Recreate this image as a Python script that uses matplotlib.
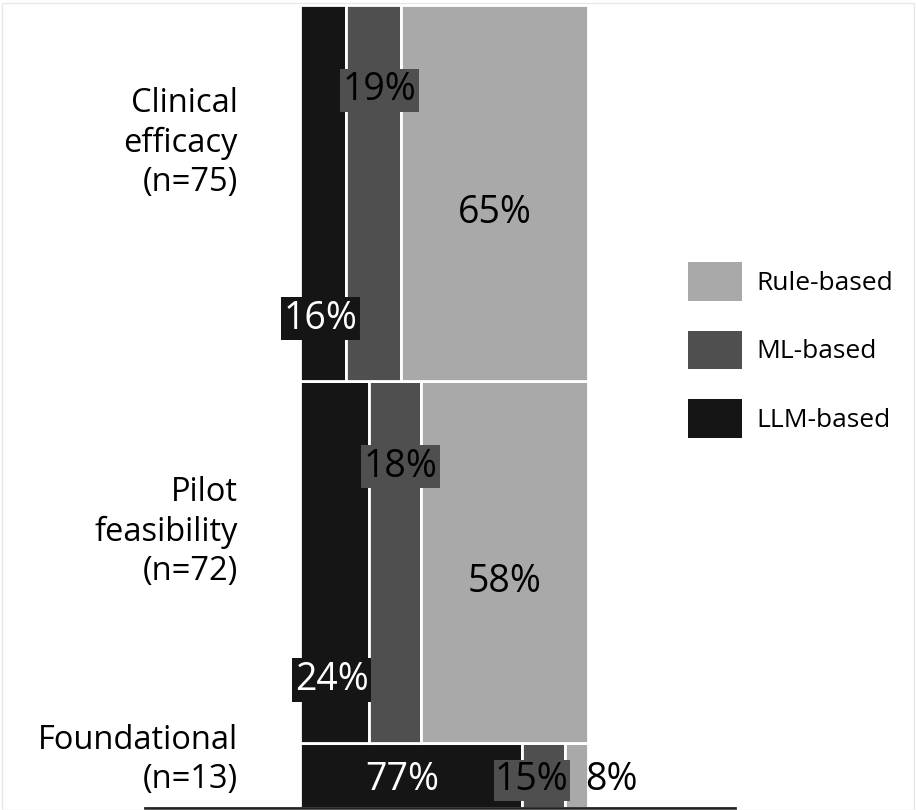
import matplotlib
matplotlib.use("Agg")
import matplotlib.pyplot as plt
from matplotlib.patches import Patch

plt.rcParams['font.family'] = ['Open Sans', 'DejaVu Sans']

categories = ["Foundational\n(n=13)", "Pilot\nfeasibility\n(n=72)", "Clinical\nefficacy\n(n=75)"]
n_counts = [13, 72, 75]
series = ["LLM-based", "ML-based", "Rule-based"]
llm = [77, 24, 16]
ml = [15, 18, 19]
rule = [8, 58, 65]

colors = {"LLM-based": "#151515", "ML-based": "#4f4f4f", "Rule-based": "#a9a9a9"}
label_frac = [0.73, 0.583, 0.633]   # vertical placement of category labels within bar

fig = plt.figure(figsize=(9.16, 8.10), dpi=100)
ax = fig.add_axes([145/916, 2/810, 590/916, 803/810])

vals = {"LLM-based": llm, "ML-based": ml, "Rule-based": rule}
bottom = 0
for i, cat in enumerate(categories):
    h = n_counts[i]
    left = 0
    for s in series:
        w = vals[s][i]
        ax.bar(left, h, width=w, bottom=bottom, align='edge',
               color=colors[s], edgecolor='white', linewidth=2)
        left += w
    bottom += h

bottom = 0
fs = 27
cat_fs = 23.5
for i, cat in enumerate(categories):
    h = n_counts[i]
    l, m, r = llm[i], ml[i], rule[i]
    top = bottom + h
    if h > 30:
        ax.text(l + m / 2 + 2, top - 17, f"{m}%", ha='center', va='center', fontsize=fs,
                color='black', bbox=dict(facecolor=colors["ML-based"], edgecolor='none', pad=2))
        ax.text(l / 2 - 1, bottom + 12.5, f"{l}%", ha='center', va='center', fontsize=fs,
                color='white', bbox=dict(facecolor=colors["LLM-based"], edgecolor='none', pad=2))
        ax.text(l + m + r / 2, bottom + h / 2 - 4, f"{r}%", ha='center', va='center', fontsize=fs,
                color='black')
    else:
        ymid = bottom + h / 2 - 1
        ax.text(l / 2 - 3, ymid, f"{l}%", ha='center', va='center', fontsize=fs, color='white')
        ax.text(l + m / 2 - 4, ymid, f"{m}%", ha='center', va='center', fontsize=fs,
                color='black', bbox=dict(facecolor=colors["ML-based"], edgecolor='none', pad=1))
        ax.text(l + m + r + 8, ymid, f"{r}%", ha='center', va='center', fontsize=fs,
                color='black')
    ax.text(-21.5, bottom + h * label_frac[i], cat, ha='right', va='center', fontsize=cat_fs,
            linespacing=1.24)
    bottom = top

ax.set_xlim(-53.8, 151)
ax.set_ylim(0, 160)
for sp in ['top', 'right', 'left']:
    ax.spines[sp].set_visible(False)
ax.spines['bottom'].set_linewidth(2)
ax.spines['bottom'].set_color('#222222')
ax.set_xticks([])
ax.set_yticks([])

handles = [Patch(facecolor=colors[s], edgecolor='none', label=s) for s in reversed(series)]
fig.legend(handles=handles, loc='center left', bbox_to_anchor=(664/916, 1 - 350/810),
           frameon=False, fontsize=19, handlelength=2.06, handleheight=1.85,
           labelspacing=1.15, handletextpad=0.55)

fig.patches.append(plt.Rectangle((0.002, 0.0), 0.996, 0.996, transform=fig.transFigure,
                                 fill=False, edgecolor='#e8e8e8', linewidth=1))
fig.savefig("out.png", dpi=100)
